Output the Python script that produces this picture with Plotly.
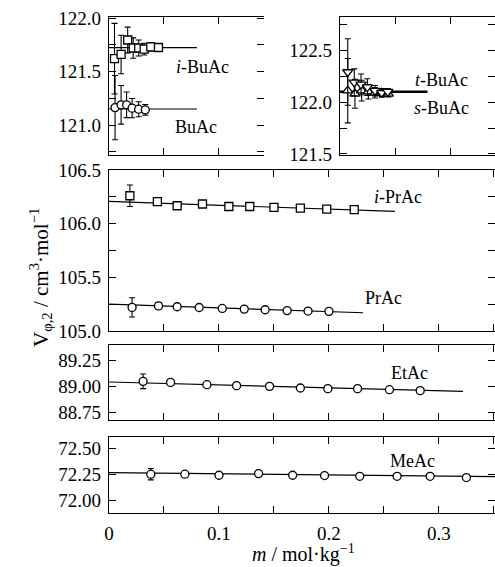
import plotly.graph_objects as go

# ---------------- data ----------------
# main panel: i-PrAc (squares) and PrAc (circles)
ipr_m = [0.019, 0.044, 0.062, 0.085, 0.109, 0.128, 0.150, 0.174, 0.198, 0.223]
ipr_v = [106.26, 106.205, 106.167, 106.183, 106.16, 106.16, 106.151, 106.145, 106.136, 106.13]
ipr_err = [0.10, 0.03, 0, 0, 0, 0, 0, 0, 0, 0]
ipr_fit_m = [0.0, 0.26]
ipr_fit_v = [106.207, 106.114]

pr_m = [0.021, 0.045, 0.062, 0.082, 0.103, 0.123, 0.142, 0.162, 0.181, 0.200]
pr_v = [105.22, 105.234, 105.226, 105.219, 105.21, 105.204, 105.198, 105.19, 105.186, 105.183]
pr_err = [0.09, 0.03, 0, 0, 0, 0, 0, 0, 0, 0]
pr_fit_m = [0.0, 0.231]
pr_fit_v = [105.25, 105.17]

# EtAc
et_m = [0.031, 0.056, 0.089, 0.116, 0.146, 0.174, 0.199, 0.226, 0.255, 0.283]
et_v = [89.051, 89.041, 89.019, 89.01, 89.003, 88.987, 88.981, 88.981, 88.971, 88.962]
et_err = [0.07, 0.02, 0, 0, 0, 0, 0, 0, 0, 0]
et_fit_m = [0.0, 0.322]
et_fit_v = [89.045, 88.955]

# MeAc
me_m = [0.038, 0.069, 0.100, 0.136, 0.167, 0.196, 0.228, 0.262, 0.292, 0.325]
me_v = [72.25, 72.25, 72.24, 72.256, 72.24, 72.237, 72.23, 72.23, 72.23, 72.218]
me_err = [0.055, 0.01, 0, 0, 0, 0, 0, 0, 0, 0]
me_fit_m = [0.0, 0.351]
me_fit_v = [72.266, 72.226]

# left inset: i-BuAc (squares), BuAc (circles)
ibu_m = [0.005, 0.011, 0.017, 0.022, 0.027, 0.032, 0.038, 0.045]
ibu_v = [121.62, 121.66, 121.795, 121.72, 121.72, 121.71, 121.73, 121.725]
ibu_err = [0.33, 0.18, 0.12, 0.095, 0.075, 0.055, 0.04, 0.025]
ibu_fit_m = [0.0, 0.08]
ibu_fit_v = [121.724, 121.724]

bu_m = [0.0055, 0.011, 0.016, 0.021, 0.027, 0.033]
bu_v = [121.163, 121.189, 121.189, 121.158, 121.148, 121.142]
bu_err = [0.30, 0.18, 0.12, 0.09, 0.07, 0.05]
bu_fit_m = [0.0, 0.08]
bu_fit_v = [121.15, 121.15]

# right inset: t-BuAc (down triangles), s-BuAc (up triangles)
tbu_m = [0.007, 0.0129, 0.019, 0.0247, 0.0316, 0.0377, 0.0431]
tbu_v = [122.29, 122.19, 122.17, 122.145, 122.11, 122.09, 122.10]
tbu_err = [0.32, 0.13, 0.10, 0.08, 0.05, 0.04, 0.03]
sbu_m = [0.007, 0.0135, 0.0196, 0.0256, 0.0316, 0.0377, 0.0437]
sbu_v = [122.11, 122.08, 122.11, 122.10, 122.09, 122.09, 122.08]
sbu_err = [0.31, 0.14, 0.10, 0.07, 0.05, 0.04, 0.03]
sbu_fit_m = [0.0, 0.079]
sbu_fit_v = [122.10, 122.10]

# tick labels
x_ticks = [0, 0.1, 0.2, 0.3]
x_ticktext = ["0", "0.1", "0.2", "0.3"]
y1_ticks = [121.0, 121.5, 122.0]
y1_text = ["121.0", "121.5", "122.0"]
y2_ticks = [121.5, 122.0, 122.5]
y2_text = ["121.5", "122.0", "122.5"]
y3_ticks = [105.0, 105.5, 106.0, 106.5]
y3_text = ["105.0", "105.5", "106.0", "106.5"]
y4_ticks = [88.75, 89.0, 89.25]
y4_text = ["88.75", "89.00", "89.25"]
y5_ticks = [72.0, 72.25, 72.5]
y5_text = ["72.00", "72.25", "72.50"]

# ---------------- layout helpers ----------------
W, H = 495, 567
FONT = "Liberation Serif"


def xd(px):
    return px / W


def yd(py):
    return 1 - py / H


fig = go.Figure()

LW = 1.2


def add_fit(xs, ys, xa, ya, width=LW):
    fig.add_trace(go.Scatter(x=xs, y=ys, mode="lines", xaxis=xa, yaxis=ya,
                             line=dict(color="black", width=width),
                             showlegend=False, hoverinfo="skip"))


def add_pts(xs, ys, err, xa, ya, symbol, size=8):
    fig.add_trace(go.Scatter(x=xs, y=ys, mode="markers", xaxis=xa, yaxis=ya,
                             marker=dict(symbol=symbol, size=size, color="white",
                                         line=dict(color="black", width=1.3)),
                             error_y=dict(type="data", array=err, color="black",
                                          thickness=1.1, width=3),
                             showlegend=False))


# left inset (x, y)
add_fit(ibu_fit_m, ibu_fit_v, "x", "y")
add_fit(bu_fit_m, bu_fit_v, "x", "y")
add_pts(bu_m, bu_v, bu_err, "x", "y", "circle")
add_pts(ibu_m, ibu_v, ibu_err, "x", "y", "square")

# right inset (x2, y2)
add_fit(sbu_fit_m, sbu_fit_v, "x2", "y2", width=2.5)
add_pts(sbu_m, sbu_v, sbu_err, "x2", "y2", "triangle-up", size=9)
add_pts(tbu_m, tbu_v, tbu_err, "x2", "y2", "triangle-down", size=9)

# main (x3, y3)
add_fit(ipr_fit_m, ipr_fit_v, "x3", "y3")
add_fit(pr_fit_m, pr_fit_v, "x3", "y3")
add_pts(ipr_m, ipr_v, ipr_err, "x3", "y3", "square")
add_pts(pr_m, pr_v, pr_err, "x3", "y3", "circle")

# EtAc (x4, y4)
add_fit(et_fit_m, et_fit_v, "x4", "y4")
add_pts(et_m, et_v, et_err, "x4", "y4", "circle")

# MeAc (x5, y5)
add_fit(me_fit_m, me_fit_v, "x5", "y5")
add_pts(me_m, me_v, me_err, "x5", "y5", "circle")

tickfont = dict(family=FONT, size=19, color="black")
TL = 7

common = dict(showline=True, linecolor="black", linewidth=LW,
              ticks="inside", ticklen=TL, tickwidth=1, tickcolor="black",
              showgrid=False, zeroline=False, tickfont=tickfont, fixedrange=True,
              automargin=False)

panels = {
    # (x domain px, y domain px, x range, y range, y ticks, y text, y minor step, show x labels)
    1: ((109, 264), (17, 155), [0, 0.141], [120.72, 122.01], y1_ticks, y1_text, 0.25, False),
    2: ((340, 495), (17, 155), [0, 0.14], [121.49, 122.82], y2_ticks, y2_text, 0.25, False),
    3: ((109, 495), (170, 331), [0, 0.351], [105.0, 106.5], y3_ticks, y3_text, 0.25, False),
    4: ((109, 495), (345, 420), [0, 0.351], [88.68, 89.40], y4_ticks, y4_text, None, False),
    5: ((109, 495), (437, 513), [0, 0.351], [71.875, 72.61], y5_ticks, y5_text, None, True),
}

minor_x = dict(dtick=0.05, tick0=0, ticks="inside", ticklen=TL, tickwidth=1,
               tickcolor="black", showgrid=False)

layout = {}
for i, (xdom, ydom, xr, yr, yt, ytt, ymin, showx) in panels.items():
    sx = "" if i == 1 else str(i)
    xa = dict(common, domain=[xd(xdom[0]), xd(xdom[1])], range=xr, mirror="ticks",
              anchor="y" + sx, minor=minor_x)
    if showx:
        xa.update(tickvals=x_ticks, ticktext=x_ticktext, showticklabels=True, ticklabelstandoff=3)
    else:
        xa.update(tickvals=x_ticks, showticklabels=False)
    layout["xaxis" + sx] = xa

    ya = dict(common, domain=[yd(ydom[1]), yd(ydom[0])], range=yr, mirror=False,
              tickvals=yt, ticktext=ytt, anchor="x" + sx, ticklabelstandoff=3)
    yo = dict(overlaying="y" + sx, side="right", anchor="x" + sx,
              range=yr, tickvals=yt, showticklabels=False,
              ticks="inside", ticklen=TL, tickwidth=1, tickcolor="black",
              showline=False, showgrid=False, zeroline=False,
              fixedrange=True, automargin=False)
    if ymin:
        mn = dict(dtick=ymin, tick0=yt[0], ticks="inside", ticklen=TL, tickwidth=1,
                  tickcolor="black", showgrid=False)
        ya["minor"] = mn
        yo["minor"] = mn
    layout["yaxis" + sx] = ya
    layout["yaxis" + str(i + 5)] = yo

fig.update_layout(**layout)

# dummy traces so overlay axes are drawn
for i in range(1, 6):
    sx = "" if i == 1 else str(i)
    fig.add_trace(go.Scatter(x=[None], y=[None], xaxis="x" + sx, yaxis="y" + str(i + 5),
                             mode="markers", showlegend=False, hoverinfo="skip"))

labfont = dict(family=FONT, size=18, color="black")
annots = [
    ("<i>i</i>-BuAc", 202, 67),
    ("BuAc", 196, 127),
    ("<i>t</i>-BuAc", 441, 80),
    ("<i>s</i>-BuAc", 441, 108),
    ("<i>i</i>-PrAc", 398, 197),
    ("PrAc", 383, 298),
    ("EtAc", 409, 373),
    ("MeAc", 412, 461),
]
ann = []
for txt, px, py in annots:
    ann.append(dict(text=txt, x=xd(px), y=yd(py), xref="paper", yref="paper",
                    showarrow=False, font=labfont, xanchor="center", yanchor="middle"))

ann.append(dict(text="<i>m</i> / mol·kg<sup>−1</sup>", x=xd(303), y=yd(553),
                xref="paper", yref="paper", showarrow=False,
                font=dict(family=FONT, size=20, color="black"),
                xanchor="center", yanchor="middle"))
ann.append(dict(text="V<sub>φ,2</sub> / cm<sup>3</sup>·mol<sup>−1</sup>", x=xd(40), y=yd(278),
                xref="paper", yref="paper", showarrow=False, textangle=-90,
                font=dict(family=FONT, size=21, color="black"),
                xanchor="center", yanchor="middle"))

fig.update_layout(width=W, height=H, margin=dict(l=0, r=0, t=0, b=0),
                  paper_bgcolor="white", plot_bgcolor="white",
                  annotations=ann, showlegend=False, hovermode=False)

fig.write_html("out.html",
               config={"displayModeBar": False, "staticPlot": True},
               post_script="document.body.style.margin='0';document.body.style.overflow='hidden';")
